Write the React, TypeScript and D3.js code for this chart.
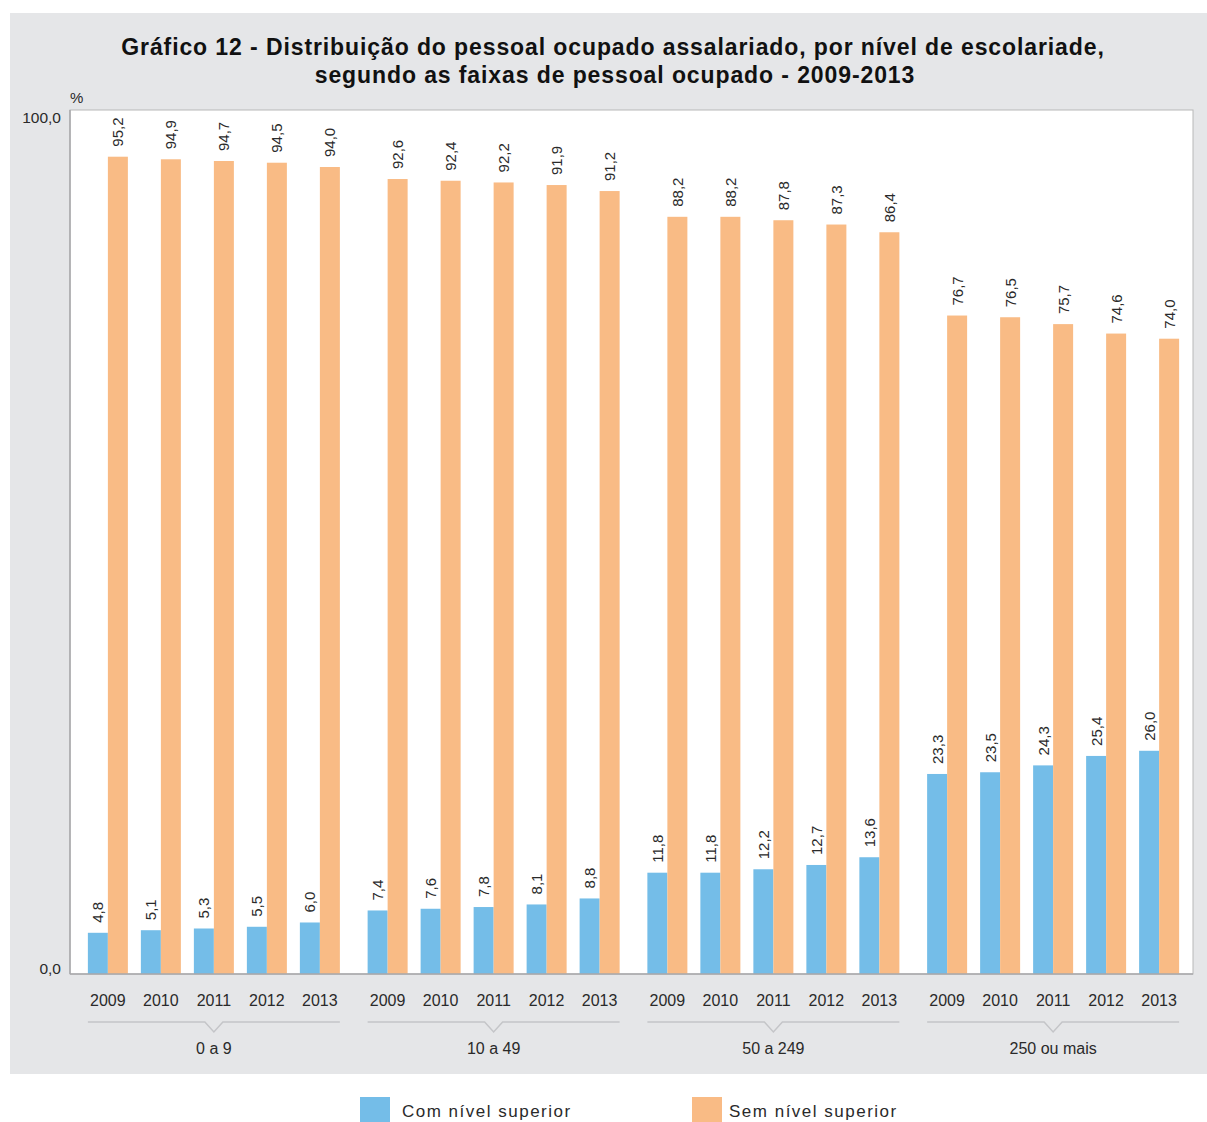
import React from "react";
import * as d3 from "d3";

const groups = ["0 a 9", "10 a 49", "50 a 249", "250 ou mais"];
const years = ["2009", "2010", "2011", "2012", "2013"];
const seriesNames = ["Com nível superior", "Sem nível superior"];
const comSuperior = [
  [4.8, 5.1, 5.3, 5.5, 6.0],
  [7.4, 7.6, 7.8, 8.1, 8.8],
  [11.8, 11.8, 12.2, 12.7, 13.6],
  [23.3, 23.5, 24.3, 25.4, 26.0],
];
const semSuperior = [
  [95.2, 94.9, 94.7, 94.5, 94.0],
  [92.6, 92.4, 92.2, 91.9, 91.2],
  [88.2, 88.2, 87.8, 87.3, 86.4],
  [76.7, 76.5, 75.7, 74.6, 74.0],
];
const yTicks = [0, 100];
const colors = ["#74bde8", "#f9bb85"];

const W = 1207;
const H = 1122;
const fmt = (v: number) => v.toFixed(1).replace(".", ",");

export default function App() {
  const plotLeft = 70;
  const plotRight = 1193;
  const plotTop = 110;
  const plotBottom = 974;

  const y = d3.scaleLinear().domain([0, 100]).range([plotBottom, 115.5]);
  const xGroup = d3.scaleBand<string>().domain(groups).range([74, 1193]).padding(0);
  const gw = xGroup.bandwidth();
  const innerW = 252;
  const xYear = d3
    .scaleBand<string>()
    .domain(years)
    .range([gw / 2 - innerW / 2, gw / 2 + innerW / 2])
    .paddingInner(0.2453)
    .paddingOuter(0);
  const xSeries = d3.scaleBand<string>().domain(seriesNames).range([0, xYear.bandwidth()]).padding(0);
  const seriesData = [comSuperior, semSuperior];

  const font = "'Liberation Sans', Arial, sans-serif";
  const textColor = "#2a2a2a";

  return (
    <svg width={W} height={H} style={{ position: "absolute", left: 0, top: 0 }} fontFamily={font}>
      <rect x={0} y={0} width={W} height={H} fill="#ffffff" />
      <rect x={10} y={13} width={W - 10} height={1074 - 13} fill="#e5e6e8" />
      <text x={613} y={55} textAnchor="middle" fontSize={23} fontWeight="bold" fill="#111" letterSpacing={0.9}>
        Gráfico 12 - Distribuição do pessoal ocupado assalariado, por nível de escolariade,
      </text>
      <text x={615} y={83} textAnchor="middle" fontSize={23} fontWeight="bold" fill="#111" letterSpacing={0.9}>
        segundo as faixas de pessoal ocupado - 2009-2013
      </text>
      <text x={70} y={103} fontSize={15} fill={textColor}>%</text>

      <rect x={plotLeft} y={plotTop} width={plotRight - plotLeft} height={plotBottom - plotTop} fill="#ffffff" stroke="#b8b8b8" strokeWidth={1} />
      <line x1={plotLeft} x2={plotLeft} y1={plotTop} y2={plotBottom} stroke="#a8a8ab" strokeWidth={1.5} />

      {yTicks.map((t) => (
        <text key={t} x={61} y={y(t) + (t === 0 ? 0 : 7)} textAnchor="end" fontSize={15.5} fill={textColor}>
          {fmt(t)}
        </text>
      ))}

      {groups.map((g, gi) => {
        const gx = xGroup(g)!;
        return (
          <g key={g} transform={`translate(${gx},0)`}>
            {years.map((yr, yi) => {
              const px = xYear(yr)!;
              return (
                <g key={yr} transform={`translate(${px},0)`}>
                  {seriesNames.map((s, si) => {
                    const v = seriesData[si][gi][yi];
                    const bx = xSeries(s)!;
                    const bw = xSeries.bandwidth();
                    const cx = bx + bw / 2;
                    return (
                      <g key={s}>
                        <rect x={bx} y={y(v)} width={bw} height={plotBottom - y(v)} fill={colors[si]} />
                        <text
                          transform={`translate(${cx},${y(v) - 10}) rotate(-90)`}
                          fontSize={15}
                          fill={textColor}
                          dominantBaseline="central"
                        >
                          {fmt(v)}
                        </text>
                      </g>
                    );
                  })}
                  <text x={xYear.bandwidth() / 2} y={1006} textAnchor="middle" fontSize={16} fill={textColor}>
                    {yr}
                  </text>
                </g>
              );
            })}
            <path
              d={`M${xYear(years[0])!},1022 H${gw / 2 - 9} L${gw / 2},1032 L${gw / 2 + 9},1022 H${xYear(years[4])! + xYear.bandwidth()}`}
              fill="none"
              stroke="#c4c5c8"
              strokeWidth={1.5}
            />
            <text x={gw / 2} y={1054} textAnchor="middle" fontSize={16} fill={textColor}>
              {g}
            </text>
          </g>
        );
      })}

      <line x1={plotLeft} x2={plotRight} y1={plotBottom} y2={plotBottom} stroke="#a8a8ab" strokeWidth={1.5} />

      {seriesNames.map((s, i) => {
        const lx = [360, 692][i];
        return (
          <g key={s}>
            <rect x={lx} y={1097} width={30} height={30} fill={colors[i]} />
            <text x={lx + 42 - i * 5} y={1117} fontSize={17} fill={textColor} letterSpacing={1.5}>
              {s}
            </text>
          </g>
        );
      })}
    </svg>
  );
}
